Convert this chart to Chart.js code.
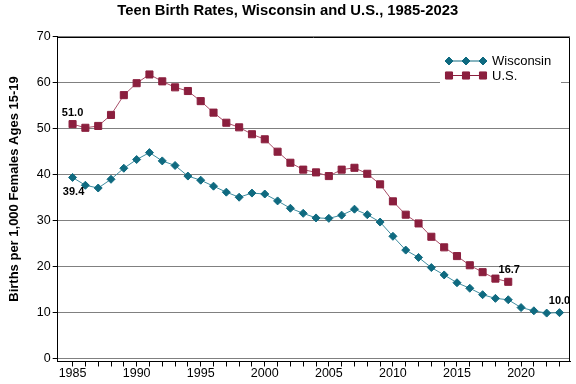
<!DOCTYPE html>
<html>
<head>
<meta charset="utf-8">
<script src="https://cdn.jsdelivr.net/npm/chart.js"></script>
<style>
  body { margin: 0; background: #fff; }
  #wrap { width: 576px; height: 384px; }
</style>
</head>
<body>
<div id="wrap"><canvas id="teenChart"></canvas></div>
<script>
// data
const years = [];
for (let y = 1985; y <= 2023; y++) years.push(y);

const wisconsin = [39.4, 37.7, 37.1, 39.0, 41.4, 43.3, 44.8, 43.0, 42.0, 39.7,
                   38.8, 37.5, 36.2, 35.1, 36.0, 35.8, 34.3, 32.7, 31.6, 30.6,
                   30.5, 31.2, 32.5, 31.3, 29.7, 26.6, 23.6, 22.0, 19.8, 18.2,
                   16.5, 15.3, 13.9, 13.1, 12.8, 11.1, 10.4, 9.9, 10.0];
const us = [51.0, 50.2, 50.6, 53.0, 57.3, 59.9, 61.8, 60.3, 59.0, 58.2,
            56.0, 53.5, 51.3, 50.3, 48.8, 47.7, 45.0, 42.6, 41.1, 40.5,
            39.7, 41.1, 41.5, 40.2, 37.9, 34.2, 31.3, 29.4, 26.5, 24.2,
            22.3, 20.3, 18.8, 17.4, 16.7];
const seriesNames = ['Wisconsin', 'U.S.'];
const yTicks = [0, 10, 20, 30, 40, 50, 60, 70];
const xTicks = years;

const FONT = "'Liberation Sans', Arial, sans-serif";
const WI_DARK = '#0f6a80', WI_LINE = '#3f8c9f';
const US_DARK = '#8b1f3e', US_LINE = '#a84e68';

function toPoints(vals) {
  return vals.map((v, i) => ({ x: years[i], y: v }));
}

// first / last values get a bold label
const valueLabels = [
  { ds: 1, idx: 0, dx: 0, dy: -11 },
  { ds: 0, idx: 0, dx: 1, dy: 15 },
  { ds: 1, idx: us.length - 1, dx: 1, dy: -12 },
  { ds: 0, idx: wisconsin.length - 1, dx: 0, dy: -12 }
];

const extras = {
  id: 'extras',
  afterDraw(chart) {
    const ctx = chart.ctx;
    const a = chart.chartArea;
    ctx.save();

    // top + right frame
    ctx.strokeStyle = '#000';
    ctx.lineWidth = 1;
    ctx.beginPath();
    ctx.moveTo(a.left, Math.round(a.top) + 0.5);
    ctx.lineTo(Math.round(a.right) - 0.5, Math.round(a.top) + 0.5);
    ctx.lineTo(Math.round(a.right) - 0.5, a.bottom);
    ctx.stroke();

    // y axis title
    ctx.fillStyle = '#000';
    ctx.font = 'bold 13px ' + FONT;
    ctx.textAlign = 'center';
    ctx.textBaseline = 'middle';
    ctx.save();
    ctx.translate(14, 189);
    ctx.rotate(-Math.PI / 2);
    ctx.fillText('Births per 1,000 Females Ages 15-19', 0, 0);
    ctx.restore();

    // value labels
    ctx.font = 'bold 11px ' + FONT;
    valueLabels.forEach(l => {
      const pt = chart.getDatasetMeta(l.ds).data[l.idx];
      const val = chart.data.datasets[l.ds].data[l.idx].y;
      ctx.fillText(val.toFixed(1), pt.x + l.dx, pt.y + l.dy);
    });

    // legend with three markers per line
    ctx.fillStyle = '#fff';
    ctx.fillRect(440, 50, 121, 38);
    chart.data.datasets.forEach((ds, i) => {
      const y = 61 + i * 14.5;
      ctx.strokeStyle = ds.pointBackgroundColor;
      ctx.lineWidth = 1;
      ctx.beginPath();
      ctx.moveTo(445, y);
      ctx.lineTo(487, y);
      ctx.stroke();
      [449, 466, 483].forEach(x => {
        Chart.helpers.drawPoint(ctx, {
          pointStyle: ds.pointStyle, radius: ds.pointRadius, borderWidth: 1
        }, x, y);
        ctx.fillStyle = ds.pointBackgroundColor;
        ctx.fill();
      });
      ctx.fillStyle = '#000';
      ctx.font = '13px ' + FONT;
      ctx.textAlign = 'left';
      ctx.fillText(ds.label, 492, y + 0.5);
    });
    ctx.restore();
  }
};

new Chart(document.getElementById('teenChart'), {
  type: 'line',
  data: {
    datasets: [
      {
        label: seriesNames[0],
        data: toPoints(wisconsin),
        borderColor: WI_LINE,
        borderWidth: 1,
        pointStyle: 'rectRot',
        pointRadius: 4,
        pointBackgroundColor: WI_DARK,
        pointBorderColor: WI_DARK,
        pointBorderWidth: 1
      },
      {
        label: seriesNames[1],
        data: toPoints(us),
        borderColor: US_LINE,
        borderWidth: 1,
        pointStyle: 'rect',
        pointRadius: 5,
        pointBackgroundColor: US_DARK,
        pointBorderColor: US_DARK,
        pointBorderWidth: 1
      }
    ]
  },
  options: {
    responsive: true,
    maintainAspectRatio: false,
    animation: false,
    layout: { padding: { left: 0, right: 0.6, top: 0, bottom: 0 } },
    plugins: {
      legend: { display: false },
      tooltip: { enabled: false },
      title: {
        display: true,
        text: 'Teen Birth Rates, Wisconsin and U.S., 1985-2023',
        color: '#000',
        font: { family: FONT, size: 14.8, weight: 'bold' },
        padding: { top: 2, bottom: 17 }
      }
    },
    scales: {
      x: {
        type: 'linear',
        min: 1983.84,
        max: 2023.82,
        afterBuildTicks: s => { s.ticks = xTicks.map(v => ({ value: v })); },
        afterFit: s => { s.height = 22.5; },
        border: { color: '#000', width: 1 },
        grid: { drawOnChartArea: false, tickColor: '#000', tickLength: 5 },
        ticks: {
          autoSkip: false,
          maxRotation: 0,
          padding: 0,
          color: '#000',
          font: { family: FONT, size: 12.5 },
          callback: v => (v % 5 === 0 ? String(v) : '')
        }
      },
      y: {
        min: -0.63,
        max: 70,
        afterBuildTicks: s => { s.ticks = yTicks.map(v => ({ value: v })); },
        afterFit: s => { s.width = 57.7; },
        border: { color: '#000', width: 1 },
        grid: { color: '#808080', tickColor: '#000', tickLength: 5 },
        ticks: {
          padding: 2,
          color: '#000',
          font: { family: FONT, size: 12.5 }
        }
      }
    }
  },
  plugins: [extras]
});
</script>
</body>
</html>
